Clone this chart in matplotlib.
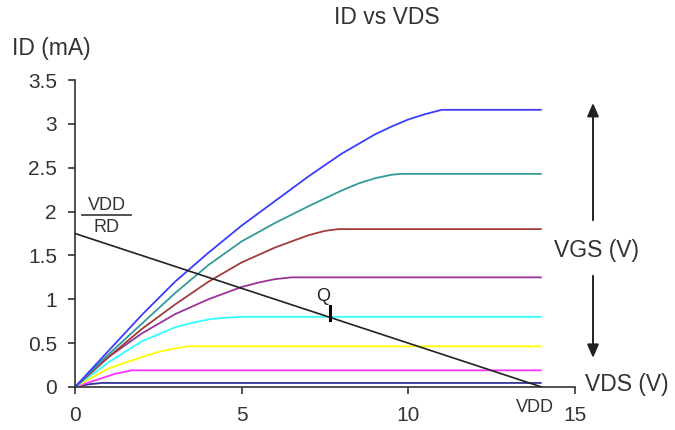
import matplotlib
matplotlib.use("Agg")
import matplotlib.pyplot as plt
from matplotlib.ticker import FuncFormatter

plt.rcParams['font.family'] = ['Liberation Sans', 'DejaVu Sans']

# Drain characteristic curves: VDS (V) points and ID (mA) values, one list per VGS step
vds_1 = [0, 1, 2, 3, 4, 5, 6, 7, 8, 9, 9.5, 10, 10.5, 11, 14]
id_1 = [0, 0.41, 0.82, 1.20, 1.53, 1.84, 2.12, 2.40, 2.66, 2.88, 2.97, 3.05, 3.11, 3.16, 3.16]

vds_2 = [0, 1, 2, 3, 4, 5, 6, 7, 8, 8.5, 9, 9.5, 9.8, 14]
id_2 = [0, 0.37, 0.72, 1.07, 1.39, 1.66, 1.87, 2.06, 2.24, 2.32, 2.38, 2.42, 2.43, 2.43]

vds_3 = [0, 1, 2, 3, 4, 5, 6, 6.5, 7, 7.5, 7.9, 14]
id_3 = [0, 0.34, 0.66, 0.94, 1.20, 1.42, 1.59, 1.66, 1.73, 1.78, 1.80, 1.80]

vds_4 = [0, 1, 2, 3, 4, 5, 5.5, 6, 6.5, 14]
id_4 = [0, 0.34, 0.61, 0.83, 1.00, 1.14, 1.19, 1.23, 1.25, 1.25]

vds_5 = [0, 1, 2, 3, 3.5, 4, 4.5, 5, 14]
id_5 = [0, 0.28, 0.52, 0.68, 0.73, 0.77, 0.79, 0.80, 0.80]

vds_6 = [0, 1, 2, 2.5, 3, 3.4, 14]
id_6 = [0, 0.21, 0.34, 0.40, 0.44, 0.464, 0.464]

vds_7 = [0, 0.8, 1.2, 1.7, 14]
id_7 = [0, 0.10, 0.15, 0.19, 0.19]

vds_8 = [0, 0.4, 0.8, 14]
id_8 = [0, 0.03, 0.046, 0.046]

curve_colors = ['#3c3cff', '#339999', '#a03c3c', '#993399',
                '#33ffff', '#ffff00', '#ff33ff', '#33339a']

# DC load line: from (0, VDD/RD) to (VDD, 0), operating point Q
vdd = 14
vdd_over_rd = 1.75
q_vds = 7.65
q_id = 0.80

x_ticks = [0, 5, 10, 15]
y_ticks = [0, 0.5, 1, 1.5, 2, 2.5, 3, 3.5]

fig = plt.figure(figsize=(6.75, 4.30), dpi=100)
ax = fig.add_axes([75 / 675, 1 - 387 / 430, 500 / 675, 307 / 430])

curves = [(vds_1, id_1), (vds_2, id_2), (vds_3, id_3), (vds_4, id_4),
          (vds_5, id_5), (vds_6, id_6), (vds_7, id_7), (vds_8, id_8)]
for (xs, ys), c in zip(curves[::-1], curve_colors[::-1]):
    ax.plot(xs, ys, color=c, lw=1.3, solid_capstyle='butt', zorder=2)

ax.plot([0, vdd], [vdd_over_rd, 0], color='#222222', lw=1.2, zorder=3)
ax.plot([q_vds, q_vds], [q_id - 0.04, q_id + 0.12], color='#000000', lw=2.2, zorder=4)
ax.text(q_vds - 0.2, q_id + 0.14, 'Q', ha='center', va='bottom', fontsize=13, color='#222222')

ax.set_xlim(0, 15)
ax.set_ylim(0, 3.5)
ax.set_xticks(x_ticks)
ax.set_yticks(y_ticks)
fmt = FuncFormatter(lambda v, p: f'{v:g}')
ax.xaxis.set_major_formatter(fmt)
ax.yaxis.set_major_formatter(fmt)

for s in ['top', 'right']:
    ax.spines[s].set_visible(False)
for s in ['left', 'bottom']:
    ax.spines[s].set_color('#333333')
    ax.spines[s].set_linewidth(1.2)
ax.tick_params(axis='both', direction='out', length=5, width=1.2, color='#333333',
               labelsize=15, labelcolor='#333333')
ax.tick_params(axis='x', pad=9)
ax.tick_params(axis='y', pad=8)

# Labels around the plot
fig.text(387 / 675, 1 - 18 / 430, 'ID vs VDS', ha='center', va='center', fontsize=16.5, color='#333333')
fig.text(12 / 675, 1 - 49 / 430, 'ID (mA)', ha='left', va='center', fontsize=16.5, color='#333333')
fig.text(585 / 675, 1 - 384 / 430, 'VDS (V)', ha='left', va='center', fontsize=16.5, color='#333333')
fig.text(597 / 675, 1 - 251 / 430, 'VGS (V)', ha='center', va='center', fontsize=16.5, color='#333333')

# VDD/RD intercept label
ax.text(0.95, 1.97, 'VDD', ha='center', va='bottom', fontsize=13, color='#333333')
ax.plot([0.2, 1.67], [1.965, 1.965], color='#333333', lw=1.2, clip_on=False)
ax.text(0.95, 1.92, 'RD', ha='center', va='top', fontsize=13, color='#333333')
ax.text(vdd - 0.2, -0.14, 'VDD', ha='center', va='top', fontsize=13, color='#333333')

# VGS direction arrows
arrow = dict(arrowstyle='-|>,head_length=0.8,head_width=0.35', color='#222222', lw=1.4)
ax.annotate('', xy=(15.54, 3.27), xytext=(15.54, 1.87), arrowprops=arrow, annotation_clip=False)
ax.annotate('', xy=(15.54, 0.30), xytext=(15.54, 1.30), arrowprops=arrow, annotation_clip=False)

fig.savefig('out.png', dpi=100)
